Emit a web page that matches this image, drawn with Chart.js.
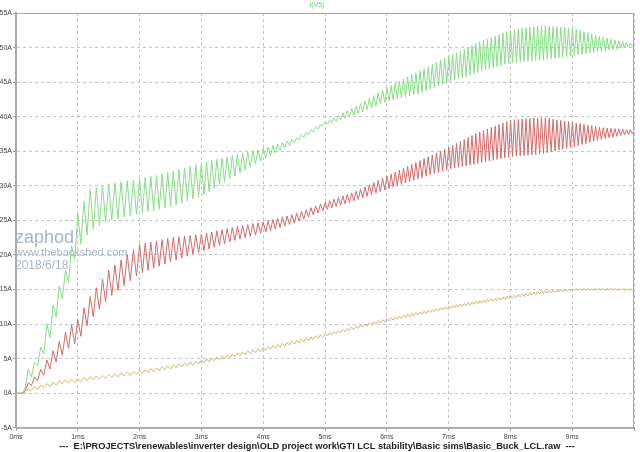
<!DOCTYPE html>
<html>
<head>
<meta charset="utf-8">
<script src="https://cdn.jsdelivr.net/npm/chart.js@4.4.1/dist/chart.umd.min.js"></script>
<style>
  html, body { margin: 0; padding: 0; background: #fff; }
  canvas { display: block; }
</style>
</head>
<body>
<canvas id="grafico" width="640" height="452"></canvas>
<script>
// envelope of each trace (peaks / troughs, in A), at these times (ms)
const tempos = [0, 0.1, 0.2, 0.35, 0.5, 0.7, 0.85, 1, 1.2, 1.5, 2, 2.5, 3, 3.5, 4, 4.5, 5, 5.5, 6, 6.5, 7, 7.5, 8, 8.5, 9, 9.5, 10];

const verdeAlto = [0, 0, 3.5, 5, 10, 15.5, 19, 26, 29.5, 30.3, 31, 32, 33.3, 34.4, 35.4, 36.8, 39.2, 41.5, 44.2, 46.5, 48.7, 50.8, 52.5, 53.2, 52.8, 51.5, 50.5];
const verdeBaixo = [0, 0, 1.5, 4, 6.5, 12.5, 16, 21, 23.5, 25, 26, 27, 28.5, 31.2, 33.8, 36.2, 38.8, 40.3, 42.2, 43.3, 45, 46.5, 47.8, 48.2, 48.8, 49.5, 50.2];

const vermelhoAlto = [0, 0, 1.5, 2.8, 4.8, 7.5, 9.5, 10.7, 14, 17.8, 21.5, 22.5, 23, 24, 24.8, 25.9, 27.6, 29.2, 31.4, 33.5, 35.6, 37.8, 39.5, 39.9, 39.2, 38.4, 38.1];
const vermelhoBaixo = [0, 0, 0.8, 1.8, 3, 5, 6.5, 7.5, 10.5, 13.8, 17.3, 19, 20.5, 22, 23.2, 24.6, 26.5, 27.9, 29.5, 31, 32.4, 33.3, 34.2, 34.6, 35.6, 36.8, 37.6];

const amareloAlto = [0, 0, 0.7, 1.1, 1.4, 1.8, 2.0, 2.1, 2.4, 2.7, 3.3, 4.0, 4.8, 5.7, 6.6, 7.6, 8.6, 9.7, 10.8, 11.7, 12.6, 13.4, 14.1, 14.8, 15.1, 15.2, 15.1];
const amareloBaixo = [0, 0, 0.3, 0.6, 0.9, 1.3, 1.5, 1.6, 1.9, 2.2, 2.8, 3.5, 4.3, 5.2, 6.1, 7.1, 8.2, 9.3, 10.4, 11.3, 12.2, 13.0, 13.7, 14.4, 14.8, 14.9, 14.9];

// ripple cycles per ms, one value per ms of the run
const ciclosPorMs = [10, 10, 11, 12, 13, 14, 15, 16, 16, 16];

const ticksY = [-5, 0, 5, 10, 15, 20, 25, 30, 35, 40, 45, 50, 55];
const ticksX = [0, 1, 2, 3, 4, 5, 6, 7, 8, 9, 10];

const titulo = "I(V5)";
const rodape = "---  E:\\PROJECTS\\renewables\\inverter design\\OLD project work\\GTI LCL stability\\Basic sims\\Basic_Buck_LCL.raw  ---";
const marca = ["zaphod", "www.thebackshed.com", "2018/6/18"];

const FONTE = "'Liberation Sans', Arial, sans-serif";

/* ===========================
   TRACES
=========================== */
function envelope(arr, t) {
    for (let i = 1; i < tempos.length; i++) {
        if (t <= tempos[i]) {
            const k = (t - tempos[i - 1]) / (tempos[i] - tempos[i - 1]);
            return arr[i - 1] + k * (arr[i] - arr[i - 1]);
        }
    }
    return arr[arr.length - 1];
}

function montarTraco(alto, baixo) {
    const pts = [];
    let t = 0;
    let cima = true;
    while (t < 10) {
        pts.push({ x: t, y: envelope(cima ? alto : baixo, t) });
        const f = ciclosPorMs[Math.min(ciclosPorMs.length - 1, Math.floor(t))];
        t += 0.5 / f;
        cima = !cima;
    }
    pts.push({ x: 10, y: (envelope(alto, 10) + envelope(baixo, 10)) / 2 });
    return pts;
}

/* ===========================
   PLUGINS
=========================== */
const moldura = {
    id: "moldura",
    beforeDatasetsDraw(chart) {
        const { ctx, chartArea: a } = chart;
        ctx.save();
        ctx.strokeStyle = "#a8a8a8";
        ctx.lineWidth = 1;
        ctx.strokeRect(a.left + 0.5, a.top + 0.5, a.right - a.left - 1, a.bottom - a.top);
        ctx.restore();
    }
};

const marcaDagua = {
    id: "marcaDagua",
    afterDatasetsDraw(chart) {
        const ctx = chart.ctx;
        ctx.save();
        ctx.fillStyle = "#a4b3c8";
        ctx.textAlign = "left";
        ctx.textBaseline = "alphabetic";
        ctx.font = "18px " + FONTE;
        ctx.fillText(marca[0], 15, 243);
        ctx.font = "11px " + FONTE;
        ctx.fillText(marca[1], 15, 256);
        ctx.font = "12px " + FONTE;
        ctx.fillText(marca[2], 15, 269);
        ctx.restore();
    }
};

/* ===========================
   CHART
=========================== */
const ctx = document.getElementById("grafico").getContext("2d");

new Chart(ctx, {
    type: "line",
    data: {
        datasets: [
            { data: montarTraco(verdeAlto, verdeBaixo), borderColor: "#88dc88" },
            { data: montarTraco(vermelhoAlto, vermelhoBaixo), borderColor: "#d06c6c" },
            { data: montarTraco(amareloAlto, amareloBaixo), borderColor: "#ccb874" }
        ].map(d => Object.assign(d, { borderWidth: 1, pointRadius: 0, fill: false, tension: 0 }))
    },
    options: {
        responsive: false,
        animation: false,
        events: [],
        layout: { padding: { left: 0, right: 6, top: 0, bottom: 0 } },
        plugins: {
            legend: { display: false },
            tooltip: { enabled: false },
            title: {
                display: true,
                text: titulo,
                color: "#6cd06c",
                font: { size: 7, family: FONTE, weight: "normal", lineHeight: 1.2 },
                padding: { top: 1, bottom: 3.6 }
            },
            subtitle: {
                display: true,
                position: "bottom",
                text: rodape,
                color: "#222",
                font: { size: 9.25, family: FONTE, weight: "bold", lineHeight: 1.1 },
                padding: 0
            }
        },
        scales: {
            x: {
                type: "linear",
                min: 0,
                max: 10,
                afterFit: s => { s.height = 14; },
                afterBuildTicks: s => { s.ticks = ticksX.map(v => ({ value: v })); },
                ticks: {
                    autoSkip: false,
                    maxRotation: 0,
                    padding: 2,
                    color: "#444",
                    font: { size: 7, family: FONTE },
                    callback: v => (v < 10 ? v + "ms" : "")
                },
                grid: { color: "#c4c4c4", tickLength: 3, tickColor: "#999", tickBorderDash: [] },
                border: { display: true, color: "#a8a8a8", dash: [3, 3] }
            },
            y: {
                min: -5,
                max: 55,
                afterFit: s => { s.width = 16; },
                afterBuildTicks: s => { s.ticks = ticksY.map(v => ({ value: v })); },
                ticks: {
                    padding: 1,
                    color: "#444",
                    font: { size: 7, family: FONTE },
                    callback: v => v + "A"
                },
                grid: { color: "#c4c4c4", tickLength: 3, tickColor: "#999", tickBorderDash: [] },
                border: { display: true, color: "#a8a8a8", width: 2, dash: [3, 3] }
            }
        }
    },
    plugins: [moldura, marcaDagua]
});
</script>
</body>
</html>
